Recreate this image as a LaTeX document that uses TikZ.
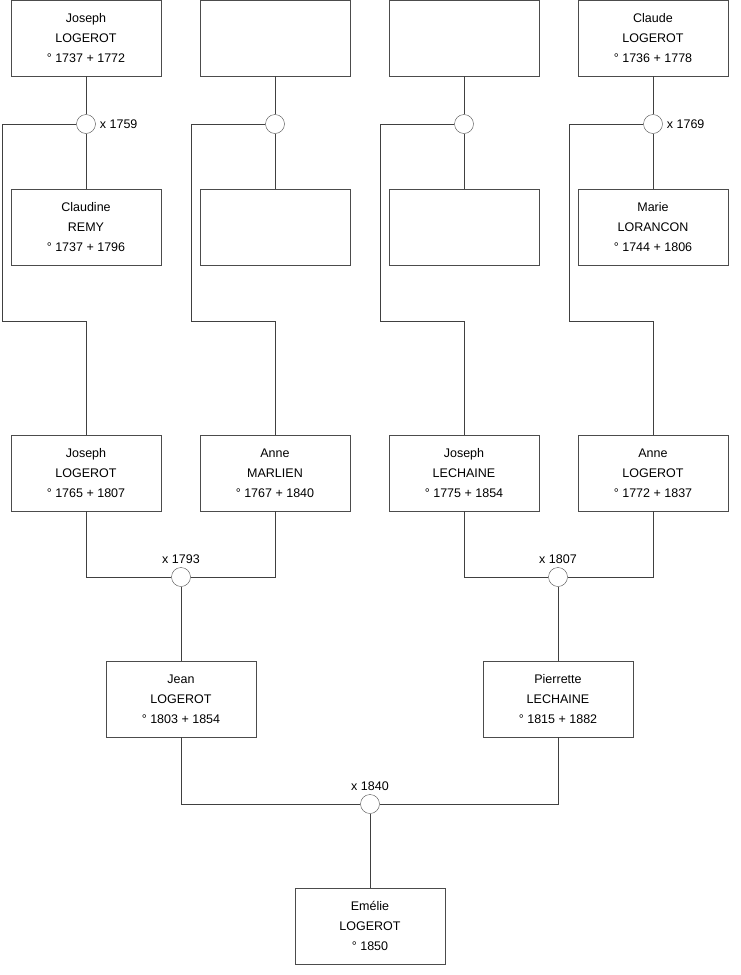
\documentclass[tikz,border=0pt]{standalone}
\usepackage{fontspec}
\setmainfont{Liberation Sans}
\usetikzlibrary{positioning}
\tikzset{
  person/.style={rectangle,draw=black!70,align=center,minimum width=150pt,
    minimum height=76pt,inner sep=0pt,font=\fontsize{12.5}{20}\selectfont},
  union/.style={circle,draw=black!70,fill=white,minimum size=19pt,inner sep=0pt},
  link/.style={draw=black!75,line width=0.9pt},
  year/.style={font=\fontsize{12.5}{14}\selectfont,inner sep=1pt},
}

\begin{document}
\begin{tikzpicture}[x=1pt,y=-1pt]
\useasboundingbox (0,0) rectangle (740,975);

% top generation
\node[person] (h1) at (86,38) {Joseph\\LOGEROT\\° 1737 + 1772};
\node[person] (h2) at (275,38) {};
\node[person] (h3) at (464,38) {};
\node[person] (h4) at (653,38) {Claude\\LOGEROT\\° 1736 + 1778};
\node[person] (w1) at (86,227) {Claudine\\REMY\\° 1737 + 1796};
\node[person] (w2) at (275,227) {};
\node[person] (w3) at (464,227) {};
\node[person] (w4) at (653,227) {Marie\\LORANCON\\° 1744 + 1806};

\node[union] (c1) at (86,124) {};
\node[union] (c2) at (275,124) {};
\node[union] (c3) at (464,124) {};
\node[union] (c4) at (653,124) {};
\node[year,right=3pt of c1] (m1) {x 1759};
\node[year,right=3pt of c4] (m4) {x 1769};

% second generation
\node[person] (j1) at (86,473) {Joseph\\LOGEROT\\° 1765 + 1807};
\node[person] (j2) at (275,473) {Anne\\MARLIEN\\° 1767 + 1840};
\node[person] (j3) at (464,473) {Joseph\\LECHAINE\\° 1775 + 1854};
\node[person] (j4) at (653,473) {Anne\\LOGEROT\\° 1772 + 1837};

\coordinate (k1) at (2,321);
\coordinate (k2) at (191,321);
\coordinate (k3) at (380,321);
\coordinate (k4) at (569,321);

\node[union] (c5) at (181,577) {};
\node[union] (c6) at (558,577) {};
\node[year,above=2pt of c5] (m5) {x 1793};
\node[year,above=2pt of c6] (m6) {x 1807};

% third generation
\node[person] (g1) at (181,699) {Jean\\LOGEROT\\° 1803 + 1854};
\node[person] (g2) at (558,699) {Pierrette\\LECHAINE\\° 1815 + 1882};
\node[union] (c7) at (370,804) {};
\node[year,above=2pt of c7] (m7) {x 1840};
\node[person] (e1) at (370,926) {Emélie\\LOGEROT\\° 1850};

\draw[link] (h1) -- (c1) -- (w1);
\draw[link] (h2) -- (c2) -- (w2);
\draw[link] (h3) -- (c3) -- (w3);
\draw[link] (h4) -- (c4) -- (w4);
\draw[link] (c1.west) -| (k1) -| (j1.north);
\draw[link] (c2.west) -| (k2) -| (j2.north);
\draw[link] (c3.west) -| (k3) -| (j3.north);
\draw[link] (c4.west) -| (k4) -| (j4.north);

\draw[link] (j1.south) |- (c5.west);
\draw[link] (j2.south) |- (c5.east);
\draw[link] (j3.south) |- (c6.west);
\draw[link] (j4.south) |- (c6.east);
\draw[link] (c5) -- (g1);
\draw[link] (c6) -- (g2);

\draw[link] (g1.south) |- (c7.west);
\draw[link] (g2.south) |- (c7.east);
\draw[link] (c7) -- (e1);
\end{tikzpicture}
\end{document}
